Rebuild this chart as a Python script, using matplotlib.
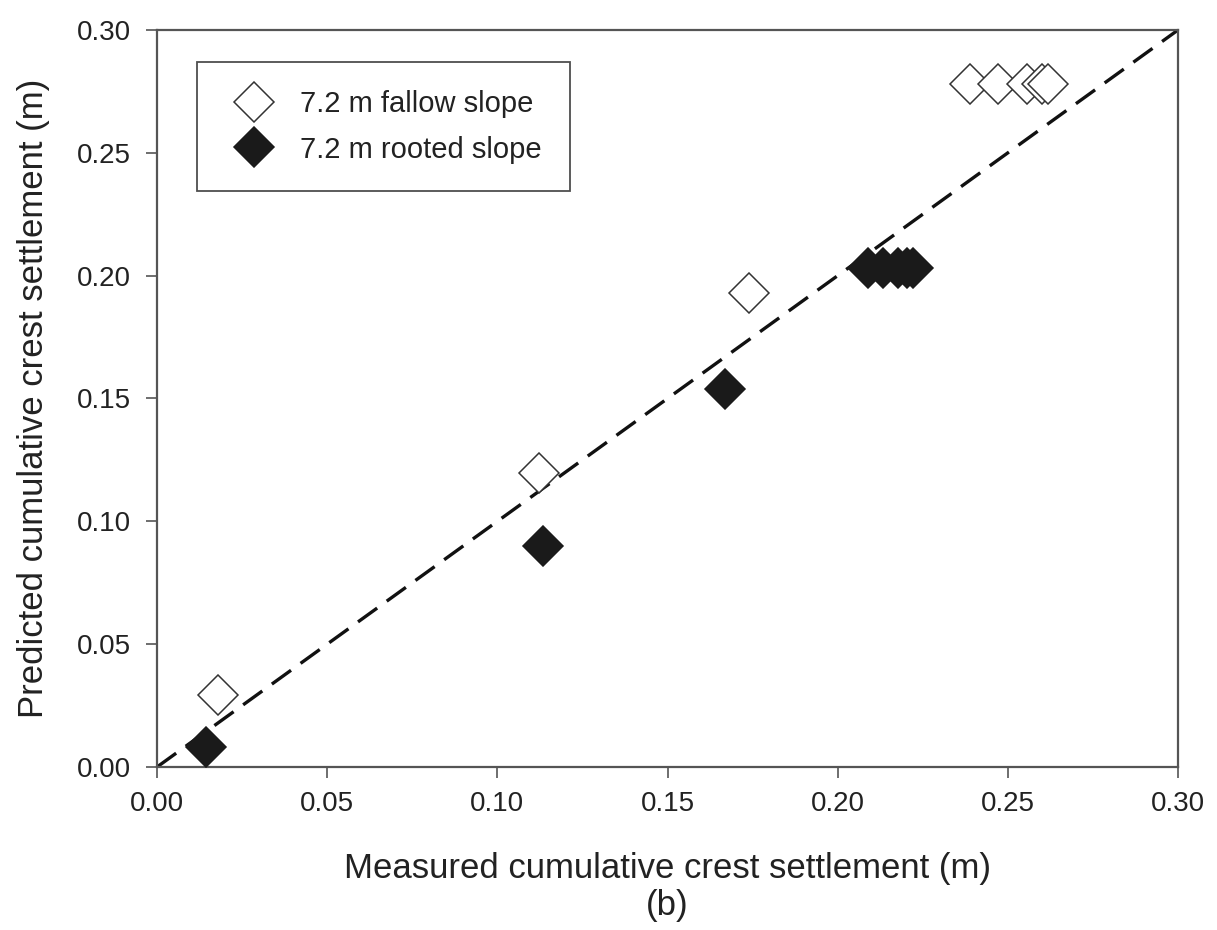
import matplotlib
matplotlib.use('Agg')
import matplotlib.pyplot as plt

# measured vs predicted crest settlement (m)
fallow_measured = [0.0179, 0.1123, 0.1740, 0.2389, 0.2471, 0.2556, 0.2600, 0.2618]
fallow_predicted = [0.0293, 0.1197, 0.1930, 0.2780, 0.2780, 0.2780, 0.2780, 0.2780]

rooted_measured = [0.0144, 0.1134, 0.1669, 0.2089, 0.2133, 0.2178, 0.2205, 0.2222]
rooted_predicted = [0.0081, 0.0900, 0.1538, 0.2031, 0.2031, 0.2031, 0.2031, 0.2031]

# 1:1 line
one_to_one = [0.0, 0.30]

ticks = [0.00, 0.05, 0.10, 0.15, 0.20, 0.25, 0.30]
tick_labels = ['0.00', '0.05', '0.10', '0.15', '0.20', '0.25', '0.30']

plt.rcParams['font.family'] = ['Liberation Sans', 'DejaVu Sans']
plt.rcParams['lines.scale_dashes'] = False
text_col = '#222222'
frame_col = '#555555'

fig = plt.figure(figsize=(12.17, 9.30), dpi=100)
ax = fig.add_axes([157 / 1217, 1 - 767 / 930, 1021 / 1217, 737 / 930])

ax.plot(one_to_one, one_to_one, color='#111111', linewidth=2.4,
        linestyle=(0, (17, 8.5)), zorder=2)

ax.plot(fallow_measured, fallow_predicted, linestyle='none', marker='D',
        markersize=20.5, markerfacecolor='white', markeredgecolor='#333333',
        markeredgewidth=1.1, label='7.2 m fallow slope', zorder=3)
ax.plot(rooted_measured, rooted_predicted, linestyle='none', marker='D',
        markersize=20.5, markerfacecolor='#1a1a1a', markeredgecolor='#1a1a1a',
        markeredgewidth=1.1, label='7.2 m rooted slope', zorder=3)

ax.set_xlim(0, 0.30)
ax.set_ylim(0, 0.30)
ax.set_xticks(ticks)
ax.set_xticklabels(tick_labels)
ax.set_yticks(ticks)
ax.set_yticklabels(tick_labels)

for s in ax.spines.values():
    s.set_color(frame_col)
    s.set_linewidth(1.6)

ax.tick_params(axis='both', direction='out', length=8, width=1.2,
               color=frame_col, labelsize=20, labelcolor=text_col)
ax.tick_params(axis='x', pad=9)
ax.tick_params(axis='y', pad=11)

ax.set_xlabel('Measured cumulative crest settlement (m)', fontsize=25,
              color=text_col)
ax.xaxis.set_label_coords(0.5, -0.116)
ax.set_ylabel('Predicted cumulative crest settlement (m)', fontsize=25,
              color=text_col)
ax.yaxis.set_label_coords(-0.105, 0.5)

fig.text(0.5 * (157 + 1178) / 1217, 1 - 915 / 930, '(b)', fontsize=25,
         color=text_col, ha='center', va='baseline')

leg = ax.legend(loc='upper left', bbox_to_anchor=(0.039, 0.956),
                fontsize=21, numpoints=1, frameon=True, fancybox=False,
                borderpad=0.95, handlelength=2.0, handletextpad=0.6,
                labelspacing=0.6, borderaxespad=0)
leg.get_frame().set_edgecolor('#222222')
leg.get_frame().set_linewidth(1.3)
for t in leg.get_texts():
    t.set_color(text_col)

fig.savefig('out.png', dpi=100)
